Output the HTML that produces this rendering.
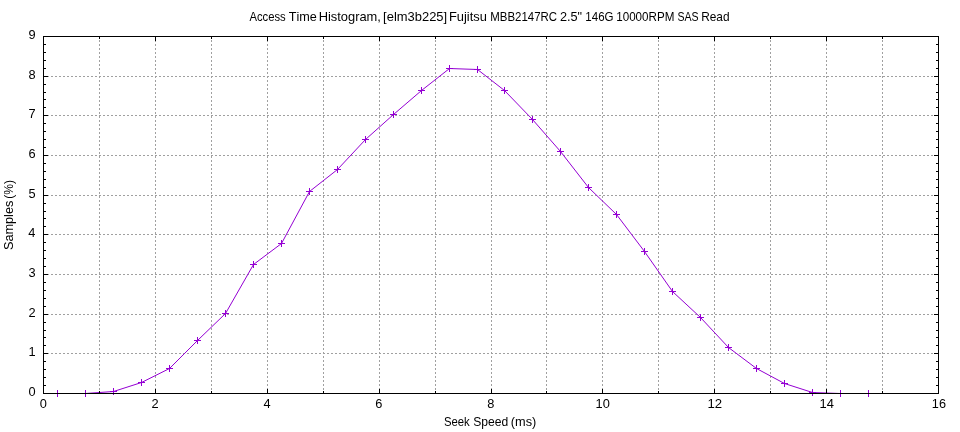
<!DOCTYPE html>
<html><head><meta charset="utf-8"><title>Access Time Histogram</title>
<style>html,body{margin:0;padding:0;background:#fff;}body{width:960px;height:432px;overflow:hidden;}svg{display:block;will-change:transform;}text{font-family:"Liberation Sans",sans-serif;fill:#000;font-kerning:none;}</style></head><body>
<svg width="960" height="432" viewBox="0 0 960 432">
<rect x="0" y="0" width="960" height="432" fill="#ffffff"/>
<g stroke="#a0a0a0" stroke-width="1" stroke-dasharray="2 2" fill="none" shape-rendering="crispEdges">
<line x1="99.5" y1="36" x2="99.5" y2="393"/>
<line x1="155.5" y1="36" x2="155.5" y2="393"/>
<line x1="211.5" y1="36" x2="211.5" y2="393"/>
<line x1="267.5" y1="36" x2="267.5" y2="393"/>
<line x1="323.5" y1="36" x2="323.5" y2="393"/>
<line x1="379.5" y1="36" x2="379.5" y2="393"/>
<line x1="435.5" y1="36" x2="435.5" y2="393"/>
<line x1="491.5" y1="36" x2="491.5" y2="393"/>
<line x1="546.5" y1="36" x2="546.5" y2="393"/>
<line x1="602.5" y1="36" x2="602.5" y2="393"/>
<line x1="658.5" y1="36" x2="658.5" y2="393"/>
<line x1="714.5" y1="36" x2="714.5" y2="393"/>
<line x1="770.5" y1="36" x2="770.5" y2="393"/>
<line x1="826.5" y1="36" x2="826.5" y2="393"/>
<line x1="882.5" y1="36" x2="882.5" y2="393"/>
<line x1="43" y1="353.5" x2="938" y2="353.5"/>
<line x1="43" y1="314.5" x2="938" y2="314.5"/>
<line x1="43" y1="274.5" x2="938" y2="274.5"/>
<line x1="43" y1="234.5" x2="938" y2="234.5"/>
<line x1="43" y1="195.5" x2="938" y2="195.5"/>
<line x1="43" y1="155.5" x2="938" y2="155.5"/>
<line x1="43" y1="115.5" x2="938" y2="115.5"/>
<line x1="43" y1="76.5" x2="938" y2="76.5"/>
</g>
<g stroke="#9400d3" stroke-width="1" fill="none">
<polyline points="57.5,393.5 85.5,393.5 113.5,391.5 141.5,382.5 169.5,368.5 197.5,340.5 225.5,313.5 253.5,264.5 281.5,243.5 309.5,191.5 337.5,169.5 365.5,139.5 393.5,114.5 421.5,90.5 449.5,68.5 477.5,69.5 504.5,90.5 532.5,119.5 560.5,151.5 588.5,187.5 616.5,214.5 644.5,251.5 672.5,291.5 700.5,317.5 728.5,347.5 756.5,368.5 784.5,383.5 812.5,392.5 840.5,393.5 868.5,393.5"/>
<path shape-rendering="crispEdges" d="M54.0,393.5h7M57.5,390.0v7M82.0,393.5h7M85.5,390.0v7M110.0,391.5h7M113.5,388.0v7M138.0,382.5h7M141.5,379.0v7M166.0,368.5h7M169.5,365.0v7M194.0,340.5h7M197.5,337.0v7M222.0,313.5h7M225.5,310.0v7M250.0,264.5h7M253.5,261.0v7M278.0,243.5h7M281.5,240.0v7M306.0,191.5h7M309.5,188.0v7M334.0,169.5h7M337.5,166.0v7M362.0,139.5h7M365.5,136.0v7M390.0,114.5h7M393.5,111.0v7M418.0,90.5h7M421.5,87.0v7M446.0,68.5h7M449.5,65.0v7M474.0,69.5h7M477.5,66.0v7M501.0,90.5h7M504.5,87.0v7M529.0,119.5h7M532.5,116.0v7M557.0,151.5h7M560.5,148.0v7M585.0,187.5h7M588.5,184.0v7M613.0,214.5h7M616.5,211.0v7M641.0,251.5h7M644.5,248.0v7M669.0,291.5h7M672.5,288.0v7M697.0,317.5h7M700.5,314.0v7M725.0,347.5h7M728.5,344.0v7M753.0,368.5h7M756.5,365.0v7M781.0,383.5h7M784.5,380.0v7M809.0,392.5h7M812.5,389.0v7M837.0,393.5h7M840.5,390.0v7M865.0,393.5h7M868.5,390.0v7"/>
</g>
<g stroke="#000" stroke-width="1" fill="none" shape-rendering="crispEdges">
<path d="M99.5,393.5v-2.5M99.5,36.5v2.5M155.5,393.5v-4.5M155.5,36.5v4.5M211.5,393.5v-2.5M211.5,36.5v2.5M267.5,393.5v-4.5M267.5,36.5v4.5M323.5,393.5v-2.5M323.5,36.5v2.5M379.5,393.5v-4.5M379.5,36.5v4.5M435.5,393.5v-2.5M435.5,36.5v2.5M491.5,393.5v-4.5M491.5,36.5v4.5M546.5,393.5v-2.5M546.5,36.5v2.5M602.5,393.5v-4.5M602.5,36.5v4.5M658.5,393.5v-2.5M658.5,36.5v2.5M714.5,393.5v-4.5M714.5,36.5v4.5M770.5,393.5v-2.5M770.5,36.5v2.5M826.5,393.5v-4.5M826.5,36.5v4.5M882.5,393.5v-2.5M882.5,36.5v2.5M43.5,385.5h2.5M938.5,385.5h-2.5M43.5,377.5h2.5M938.5,377.5h-2.5M43.5,369.5h2.5M938.5,369.5h-2.5M43.5,361.5h2.5M938.5,361.5h-2.5M43.5,353.5h4.5M938.5,353.5h-4.5M43.5,345.5h2.5M938.5,345.5h-2.5M43.5,337.5h2.5M938.5,337.5h-2.5M43.5,330.5h2.5M938.5,330.5h-2.5M43.5,322.5h2.5M938.5,322.5h-2.5M43.5,314.5h4.5M938.5,314.5h-4.5M43.5,306.5h2.5M938.5,306.5h-2.5M43.5,298.5h2.5M938.5,298.5h-2.5M43.5,290.5h2.5M938.5,290.5h-2.5M43.5,282.5h2.5M938.5,282.5h-2.5M43.5,274.5h4.5M938.5,274.5h-4.5M43.5,266.5h2.5M938.5,266.5h-2.5M43.5,258.5h2.5M938.5,258.5h-2.5M43.5,250.5h2.5M938.5,250.5h-2.5M43.5,242.5h2.5M938.5,242.5h-2.5M43.5,234.5h4.5M938.5,234.5h-4.5M43.5,226.5h2.5M938.5,226.5h-2.5M43.5,218.5h2.5M938.5,218.5h-2.5M43.5,211.5h2.5M938.5,211.5h-2.5M43.5,203.5h2.5M938.5,203.5h-2.5M43.5,195.5h4.5M938.5,195.5h-4.5M43.5,187.5h2.5M938.5,187.5h-2.5M43.5,179.5h2.5M938.5,179.5h-2.5M43.5,171.5h2.5M938.5,171.5h-2.5M43.5,163.5h2.5M938.5,163.5h-2.5M43.5,155.5h4.5M938.5,155.5h-4.5M43.5,147.5h2.5M938.5,147.5h-2.5M43.5,139.5h2.5M938.5,139.5h-2.5M43.5,131.5h2.5M938.5,131.5h-2.5M43.5,123.5h2.5M938.5,123.5h-2.5M43.5,115.5h4.5M938.5,115.5h-4.5M43.5,107.5h2.5M938.5,107.5h-2.5M43.5,99.5h2.5M938.5,99.5h-2.5M43.5,92.5h2.5M938.5,92.5h-2.5M43.5,84.5h2.5M938.5,84.5h-2.5M43.5,76.5h4.5M938.5,76.5h-4.5M43.5,68.5h2.5M938.5,68.5h-2.5M43.5,60.5h2.5M938.5,60.5h-2.5M43.5,52.5h2.5M938.5,52.5h-2.5M43.5,44.5h2.5M938.5,44.5h-2.5"/>
<rect x="43.5" y="36.5" width="895.0" height="357.0"/>
</g>
<g font-size="12.8">
<text x="249.38" y="21" textLength="36.28" lengthAdjust="spacingAndGlyphs">Access</text>
<text x="288.72" y="21" textLength="28.1" lengthAdjust="spacingAndGlyphs">Time</text>
<text x="318.69" y="21" textLength="62.21" lengthAdjust="spacingAndGlyphs">Histogram,</text>
<text x="383.08" y="21" textLength="64.1" lengthAdjust="spacingAndGlyphs">[elm3b225]</text>
<text x="448.94" y="21" textLength="37.91" lengthAdjust="spacingAndGlyphs">Fujitsu</text>
<text x="490.31" y="21" textLength="66.72" lengthAdjust="spacingAndGlyphs">MBB2147RC</text>
<text x="559.96" y="21" textLength="22.18" lengthAdjust="spacingAndGlyphs">2.5&quot;</text>
<text x="585.37" y="21" textLength="28.24" lengthAdjust="spacingAndGlyphs">146G</text>
<text x="616.21" y="21" textLength="58.24" lengthAdjust="spacingAndGlyphs">10000RPM</text>
<text x="677.42" y="21" textLength="21.17" lengthAdjust="spacingAndGlyphs">SAS</text>
<text x="701.13" y="21" textLength="28.39" lengthAdjust="spacingAndGlyphs">Read</text>
<text x="28.38" y="396.0">0</text>
<text x="28.51" y="356.3">1</text>
<text x="28.52" y="316.7">2</text>
<text x="28.44" y="277.0">3</text>
<text x="28.26" y="237.3">4</text>
<text x="28.42" y="197.7">5</text>
<text x="28.44" y="158.0">6</text>
<text x="28.52" y="118.3">7</text>
<text x="28.44" y="78.7">8</text>
<text x="28.49" y="39.0">9</text>
<text x="39.74" y="408">0</text>
<text x="151.62" y="408">2</text>
<text x="263.53" y="408">4</text>
<text x="375.32" y="408">6</text>
<text x="487.24" y="408">8</text>
<text x="595.62" y="408" textLength="14.28" lengthAdjust="spacingAndGlyphs">10</text>
<text x="707.5" y="408" textLength="14.67" lengthAdjust="spacingAndGlyphs">12</text>
<text x="819.52" y="408" textLength="14.36" lengthAdjust="spacingAndGlyphs">14</text>
<text x="931.83" y="408" textLength="14.13" lengthAdjust="spacingAndGlyphs">16</text>
<text x="443.89" y="426" textLength="25.85" lengthAdjust="spacingAndGlyphs">Seek</text>
<text x="473.15" y="426" textLength="35.03" lengthAdjust="spacingAndGlyphs">Speed</text>
<text x="510.81" y="426" textLength="25.53" lengthAdjust="spacingAndGlyphs">(ms)</text>
<g transform="translate(13,214.5) rotate(-90)">
<text x="-35.58" y="0" textLength="49.44" lengthAdjust="spacingAndGlyphs">Samples</text>
<text x="15.75" y="0" textLength="18.8" lengthAdjust="spacingAndGlyphs">(%)</text>
</g>
</g>
</svg></body></html>
